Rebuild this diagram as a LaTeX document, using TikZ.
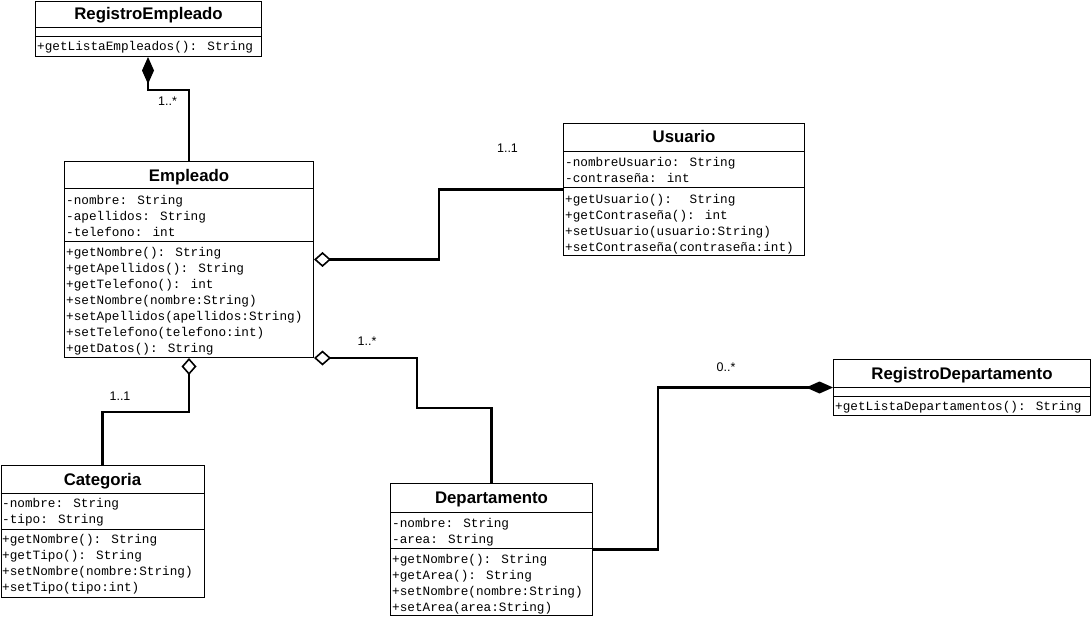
\documentclass[tikz,border=0pt]{standalone}
\usepackage{fontspec}
\setmainfont{Liberation Sans}
\newfontfamily\membfont{Liberation Mono}
\usetikzlibrary{arrows.meta,calc}
\tikzset{
  classbox/.style={draw, line width=1pt, anchor=north west, inner sep=0pt, fill=white},
  classname/.style={font=\fontsize{16.8}{18}\selectfont\bfseries, inner sep=0pt, anchor=base},
  member/.style={font=\membfont\fontsize{12.7}{14}\selectfont, inner sep=0pt, anchor=base west},
  sepline/.style={line width=1pt},
  conn/.style={line width=2.4pt},
  mult/.style={font=\fontsize{12.5}{14}\selectfont, inner sep=0pt},
  aggr/.style={-{Diamond[open,length=17pt,width=15pt,line width=1.6pt]}},
  comp/.style={-{Diamond[length=27pt,width=12pt]}},
}
\begin{document}
\begin{tikzpicture}[x=1pt,y=-1pt]
\useasboundingbox (0,0) rectangle (1091,617);

% ---------- RegistroEmpleado ----------
\node[classbox, minimum width=226, minimum height=55] (re) at (35,1) {};
\node[classname] (reT) at (re.north |- 0,20) {RegistroEmpleado};
\draw[sepline] (re.west |- 0,28) -- (re.east |- 0,28);
\draw[sepline] (re.west |- 0,37) -- (re.east |- 0,37);
\node[member] (re1) at (37,51) {+getListaEmpleados(): String};

% ---------- Empleado ----------
\node[classbox, minimum width=249, minimum height=196] (emp) at (64,161) {};
\node[classname] (empT) at (emp.north |- 0,182) {Empleado};
\draw[sepline] (emp.west |- 0,189) -- (emp.east |- 0,189);
\draw[sepline] (emp.west |- 0,242) -- (emp.east |- 0,242);
\node[member] (emp1) at (66,204.5) {-nombre: String};
\node[member] (emp2) at (66,220.5) {-apellidos: String};
\node[member] (emp3) at (66,236.5) {-telefono: int};
\node[member] (emp4) at (66,256.5) {+getNombre(): String};
\node[member] (emp5) at (66,272.5) {+getApellidos(): String};
\node[member] (emp6) at (66,288.5) {+getTelefono(): int};
\node[member] (emp7) at (66,304.5) {+setNombre(nombre:String)};
\node[member] (emp8) at (66,320.5) {+setApellidos(apellidos:String)};
\node[member] (emp9) at (66,336.5) {+setTelefono(telefono:int)};
\node[member] (emp10) at (66,352.5) {+getDatos(): String};

% ---------- Usuario ----------
\node[classbox, minimum width=241, minimum height=132] (usr) at (563,123) {};
\node[classname] (usrT) at (usr.north |- 0,143) {Usuario};
\draw[sepline] (usr.west |- 0,152) -- (usr.east |- 0,152);
\draw[sepline] (usr.west |- 0,188) -- (usr.east |- 0,188);
\node[member] (usr1) at (565,166.5) {-nombreUsuario: String};
\node[member] (usr2) at (565,182.5) {-contraseña: int};
\node[member] (usr3) at (565,203.5) {+getUsuario():~ String};
\node[member] (usr4) at (565,219.5) {+getContraseña(): int};
\node[member] (usr5) at (565,235.5) {+setUsuario(usuario:String)};
\node[member] (usr6) at (565,251.5) {+setContraseña(contraseña:int)};

% ---------- Categoria ----------
\node[classbox, minimum width=203, minimum height=132] (cat) at (0.5,465) {};
\node[classname] (catT) at (cat.north |- 0,485) {Categoria};
\draw[sepline] (cat.west |- 0,493) -- (cat.east |- 0,493);
\draw[sepline] (cat.west |- 0,529) -- (cat.east |- 0,529);
\node[member] (cat1) at (2,507.5) {-nombre: String};
\node[member] (cat2) at (2,523.5) {-tipo: String};
\node[member] (cat3) at (2,543.5) {+getNombre(): String};
\node[member] (cat4) at (2,559.5) {+getTipo(): String};
\node[member] (cat5) at (2,575.5) {+setNombre(nombre:String)};
\node[member] (cat6) at (2,591.5) {+setTipo(tipo:int)};

% ---------- Departamento ----------
\node[classbox, minimum width=202, minimum height=132] (dep) at (390,483) {};
\node[classname] (depT) at (dep.north |- 0,503) {Departamento};
\draw[sepline] (dep.west |- 0,512) -- (dep.east |- 0,512);
\draw[sepline] (dep.west |- 0,548) -- (dep.east |- 0,548);
\node[member] (dep1) at (392,527.5) {-nombre: String};
\node[member] (dep2) at (392,543.5) {-area: String};
\node[member] (dep3) at (392,563.5) {+getNombre(): String};
\node[member] (dep4) at (392,579.5) {+getArea(): String};
\node[member] (dep5) at (392,595.5) {+setNombre(nombre:String)};
\node[member] (dep6) at (392,611.5) {+setArea(area:String)};

% ---------- RegistroDepartamento ----------
\node[classbox, minimum width=257, minimum height=56] (rd) at (833,359) {};
\node[classname] (rdT) at (rd.north |- 0,379) {RegistroDepartamento};
\draw[sepline] (rd.west |- 0,387) -- (rd.east |- 0,387);
\draw[sepline] (rd.west |- 0,396) -- (rd.east |- 0,396);
\node[member] (rd1) at (835,410.5) {+getListaDepartamentos(): String};

% ---------- associations ----------
\coordinate (reEnd) at ($(re.south west)+(113,0)$);
\draw[conn, comp] (emp.north) |- ($(reEnd)+(0,33)$) -- (reEnd);
\node[mult] (m1) at (167.5,101) {1..*};

\draw[conn, aggr] (usr.west) -| ($(emp.east)+(125,0)$) -- (emp.east);
\node[mult] (m2) at (507.5,148) {1..1};

\draw[conn, aggr] (dep.north) |- ($(emp.south east)+(103,50)$) |- (emp.south east);
\node[mult] (m3) at (367,341) {1..*};

\draw[conn, aggr] (cat.north) |- ($(emp.south)+(0,54)$) -- (emp.south);
\node[mult] (m4) at (120,396) {1..1};

\draw[conn, comp] (dep.east) -| ($(rd.west)+(-175,0)$) -- (rd.west);
\node[mult] (m5) at (726,367) {0..*};
\end{tikzpicture}
\end{document}
